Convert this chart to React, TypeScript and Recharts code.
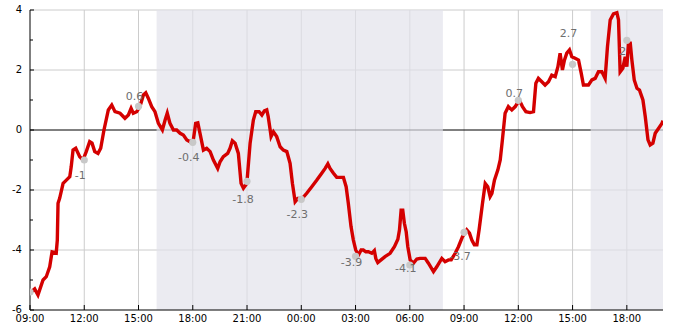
import React from 'react';
import {
  ComposedChart,
  Line,
  XAxis,
  YAxis,
  CartesianGrid,
  ReferenceLine,
  ReferenceArea,
} from 'recharts';

// hours elapsed since 09:00 on the first day
const START_HOUR = 9;

const LINE_HOURS = [
  0.1, 0.26, 0.44, 0.72, 0.9, 1.09, 1.22, 1.45, 1.51, 1.55, 1.64, 1.83, 2.01, 2.2, 2.28, 2.38, 2.53, 2.75, 2.93,
  3.11, 3.3, 3.43, 3.58, 3.76, 3.91, 4.09, 4.33, 4.52, 4.7, 4.98, 5.25, 5.44, 5.59, 5.71, 5.9, 6.08, 6.27, 6.4,
  6.54, 6.73, 6.91, 7.1, 7.32, 7.47, 7.59, 7.74, 7.93, 8.11, 8.3, 8.48, 8.67, 8.85, 9.03, 9.16, 9.28, 9.4, 9.59,
  9.77, 9.96, 10.14, 10.38, 10.51, 10.69, 10.93, 11.06, 11.19, 11.34, 11.52, 11.67, 11.8, 11.99, 12.17, 12.35,
  12.48, 12.67, 12.82, 12.96, 13.09, 13.17, 13.28, 13.33, 13.46, 13.64, 13.83, 14.01, 14.2, 14.38, 14.51, 14.66,
  14.81, 15.06, 15.3, 15.58, 15.86, 16.13, 16.32, 16.47, 16.59, 16.78, 16.96, 17.33, 17.48, 17.6, 17.75, 17.88,
  18.01, 18.16, 18.31, 18.43, 18.57, 18.71, 18.9, 19.04, 19.12, 19.23, 19.41, 19.63, 19.91, 20.15, 20.34, 20.43,
  20.52, 20.61, 20.7, 20.8, 20.89, 21.02, 21.2, 21.39, 21.57, 21.85, 22.03, 22.31, 22.49, 22.77, 22.95, 23.14,
  23.29, 23.51, 23.69, 23.91, 24.15, 24.3, 24.43, 24.57, 24.71, 24.83, 25.02, 25.17, 25.31, 25.44, 25.54, 25.68,
  25.87, 26.0, 26.12, 26.27, 26.45, 26.64, 26.83, 27.05, 27.23, 27.42, 27.65, 27.84, 27.97, 28.11, 28.3, 28.48,
  28.67, 28.85, 29.04, 29.19, 29.31, 29.44, 29.55, 29.68, 29.83, 29.96, 30.14, 30.33, 30.48, 30.6, 30.88, 31.07,
  31.25, 31.43, 31.62, 31.8, 31.93, 32.08, 32.26, 32.45, 32.54, 32.63, 32.78, 32.91, 33.0, 33.09, 33.19, 33.28,
  33.41, 33.56, 33.7, 33.89, 34.02, 34.17, 34.29, 34.44, 34.57, 34.76, 34.94, 35.0,
];

const LINE_VALUES = [
  -5.38, -5.3, -5.5, -5.0, -4.89, -4.56, -4.06, -4.1, -3.67, -2.44, -2.28, -1.78, -1.67, -1.56, -1.22, -0.67, -0.61,
  -0.89, -1.0, -0.72, -0.39, -0.44, -0.72, -0.78, -0.61, 0, 0.67, 0.83, 0.61, 0.56, 0.39, 0.5, 0.72, 0.56, 0.61,
  0.78, 1.17, 1.24, 1.06, 0.78, 0.61, 0.22, 0, 0.33, 0.56, 0.22, 0, 0, -0.11, -0.17, -0.33, -0.39, -0.33, 0.22,
  0.24, -0.11, -0.67, -0.61, -0.72, -1.0, -1.28, -1.06, -0.89, -0.78, -0.61, -0.36, -0.44, -0.78, -1.78, -1.94,
  -1.78, -0.44, 0.33, 0.61, 0.61, 0.5, 0.64, 0.67, 0.45, 0.0, -0.22, -0.06, -0.22, -0.56, -0.67, -0.72, -1.11,
  -1.78, -2.39, -2.28, -2.28, -2.11, -1.89, -1.67, -1.44, -1.28, -1.13, -1.28, -1.44, -1.58, -1.58, -1.89, -2.44,
  -3.22, -3.67, -4.0, -4.17, -4.0, -4.0, -4.06, -4.06, -4.11, -4.02, -4.28, -4.42, -4.33, -4.22, -4.11, -3.89,
  -3.64, -3.33, -2.67, -2.67, -3.11, -3.39, -3.89, -4.33, -4.44, -4.3, -4.28, -4.28, -4.44, -4.72, -4.56, -4.28,
  -4.39, -4.33, -4.33, -4.11, -3.89, -3.56, -3.33, -3.44, -3.67, -3.83, -3.83, -3.33, -2.44, -1.78, -1.89, -2.22,
  -2.11, -1.67, -1.33, -1.0, -0.33, 0.56, 0.78, 0.67, 0.78, 1.0, 0.78, 0.61, 0.58, 0.61, 1.56, 1.72, 1.61, 1.5,
  1.61, 1.83, 1.78, 2.11, 2.56, 2.0, 2.33, 2.56, 2.67, 2.44, 2.39, 2.33, 1.89, 1.5, 1.5, 1.67, 1.72, 1.94, 1.94,
  1.72, 2.78, 3.67, 3.87, 3.91, 3.67, 1.94, 2.06, 2.44, 2.11, 2.89, 2.89, 2.33, 1.67, 1.39, 1.33, 1.0, 0.44, -0.33,
  -0.5, -0.44, -0.11, 0.06, 0.22, 0.31,
];

const ANNOT_HOURS = [0, 3, 6, 9, 12, 15, 18, 21, 24, 27, 30, 33];
const ANNOT_VALUES = [-5.4, -1.0, 0.79, -0.41, -1.71, -2.31, -4.21, -4.5, -3.41, 0.99, 2.19, 2.99];
const ANNOT_LABELS = ['', '-1', '0.6', '-0.4', '-1.8', '-2.3', '-3.9', '-4.1', '-3.7', '0.7', '2.7', '2'];
const ANNOT_LABEL_AT = [-5.9, -1.5, 1.13, -0.9, -2.3, -2.8, -4.4, -4.6, -4.2, 1.23, 3.23, 2.63];

const X_TICKS = [0, 3, 6, 9, 12, 15, 18, 21, 24, 27, 30, 33];
const Y_TICKS = [-6, -5, -4, -3, -2, -1, 0, 1, 2, 3, 4];
const Y_GRID = [-4, -2, 2, 4];
const X_GRID = [3, 6, 9, 12, 15, 18, 21, 24, 27, 30, 33];

const SHADE_FROM = [7, 31];
const SHADE_TO = [22.83, 35];

const lineData = LINE_HOURS.map((h, i) => ({ h, v: LINE_VALUES[i] }));
const dotData = ANNOT_HOURS.map((h, i) => ({ h, v: ANNOT_VALUES[i] }));
const labelData = ANNOT_HOURS.map((h, i) => ({ h, v: ANNOT_LABEL_AT[i], text: ANNOT_LABELS[i] }));

const FONT = '"DejaVu Sans", sans-serif';

const fmtHour = (h: number) => String((START_HOUR + h) % 24).padStart(2, '0') + ':00';

const XTick = (props: any) => {
  const { x, y, payload } = props;
  return (
    <g>
      <line x1={x} x2={x} y1={y} y2={y - 5} stroke="#000" />
      <text x={x} y={y + 12} textAnchor="middle" fontSize={10} fontFamily={FONT} fill="#000">
        {fmtHour(payload.value)}
      </text>
    </g>
  );
};

const YTick = (props: any) => {
  const { x, y, payload } = props;
  const major = payload.value % 2 === 0;
  return (
    <g>
      <line x1={x} x2={x + (major ? 4 : 3)} y1={y} y2={y} stroke="#000" />
      {major && (
        <text x={x - 8} y={y - 1} textAnchor="end" dominantBaseline="central" fontSize={10} fontFamily={FONT} fill="#000">
          {payload.value}
        </text>
      )}
    </g>
  );
};

const DotShape = (props: any) => {
  const { cx, cy, index } = props;
  if (cx == null || cy == null) return <g key={index} />;
  return <circle key={index} cx={cx} cy={cy} r={3.6} fill="#c8c8c8" />;
};

const LabelShape = (props: any) => {
  const { cx, cy, payload, index } = props;
  if (cx == null || cy == null || !payload || !payload.text) return <g key={index} />;
  return (
    <text
      key={index}
      x={cx - 4}
      y={cy}
      textAnchor="middle"
      dominantBaseline="central"
      fontSize={11}
      fontFamily={FONT}
      fill="#6e6e6e"
    >
      {payload.text}
    </text>
  );
};

export default function App() {
  return (
    <div style={{ position: 'absolute', left: 0, top: 0, width: 685, height: 330, background: '#fff' }}>
      <ComposedChart width={685} height={330} margin={{ top: 10, right: 22, bottom: 0, left: 0 }}>
        <CartesianGrid stroke="#cccccc" horizontalValues={Y_GRID} verticalValues={X_GRID} />
        <ReferenceLine y={0} stroke="#000" strokeWidth={1} zIndex={-80} />
        {SHADE_FROM.map((x1, i) => (
          <ReferenceArea
            key={i}
            x1={x1}
            x2={SHADE_TO[i]}
            fill="#e1e2ea"
            fillOpacity={0.68}
            stroke="none"
            zIndex={-50}
          />
        ))}
        <XAxis
          dataKey="h"
          type="number"
          domain={[0, 35]}
          ticks={X_TICKS}
          interval={0}
          height={20}
          tickSize={0}
          tickMargin={0}
          tickLine={false}
          axisLine={{ stroke: '#000' }}
          tick={XTick}
          allowDataOverflow
        />
        <YAxis
          type="number"
          domain={[-6, 4]}
          ticks={Y_TICKS}
          interval={0}
          width={30}
          tickSize={0}
          tickMargin={0}
          tickLine={false}
          axisLine={{ stroke: '#000' }}
          tick={YTick}
          allowDataOverflow
        />
        <Line
          data={dotData}
          dataKey="v"
          stroke="none"
          dot={DotShape}
          activeDot={false}
          isAnimationActive={false}
        />
        <Line
          data={labelData}
          dataKey="v"
          stroke="none"
          dot={LabelShape}
          activeDot={false}
          isAnimationActive={false}
        />
        <Line
          data={lineData}
          dataKey="v"
          type="linear"
          stroke="#d40000"
          strokeWidth={3.4}
          strokeLinejoin="miter"
          dot={false}
          activeDot={false}
          isAnimationActive={false}
        />
      </ComposedChart>
    </div>
  );
}
